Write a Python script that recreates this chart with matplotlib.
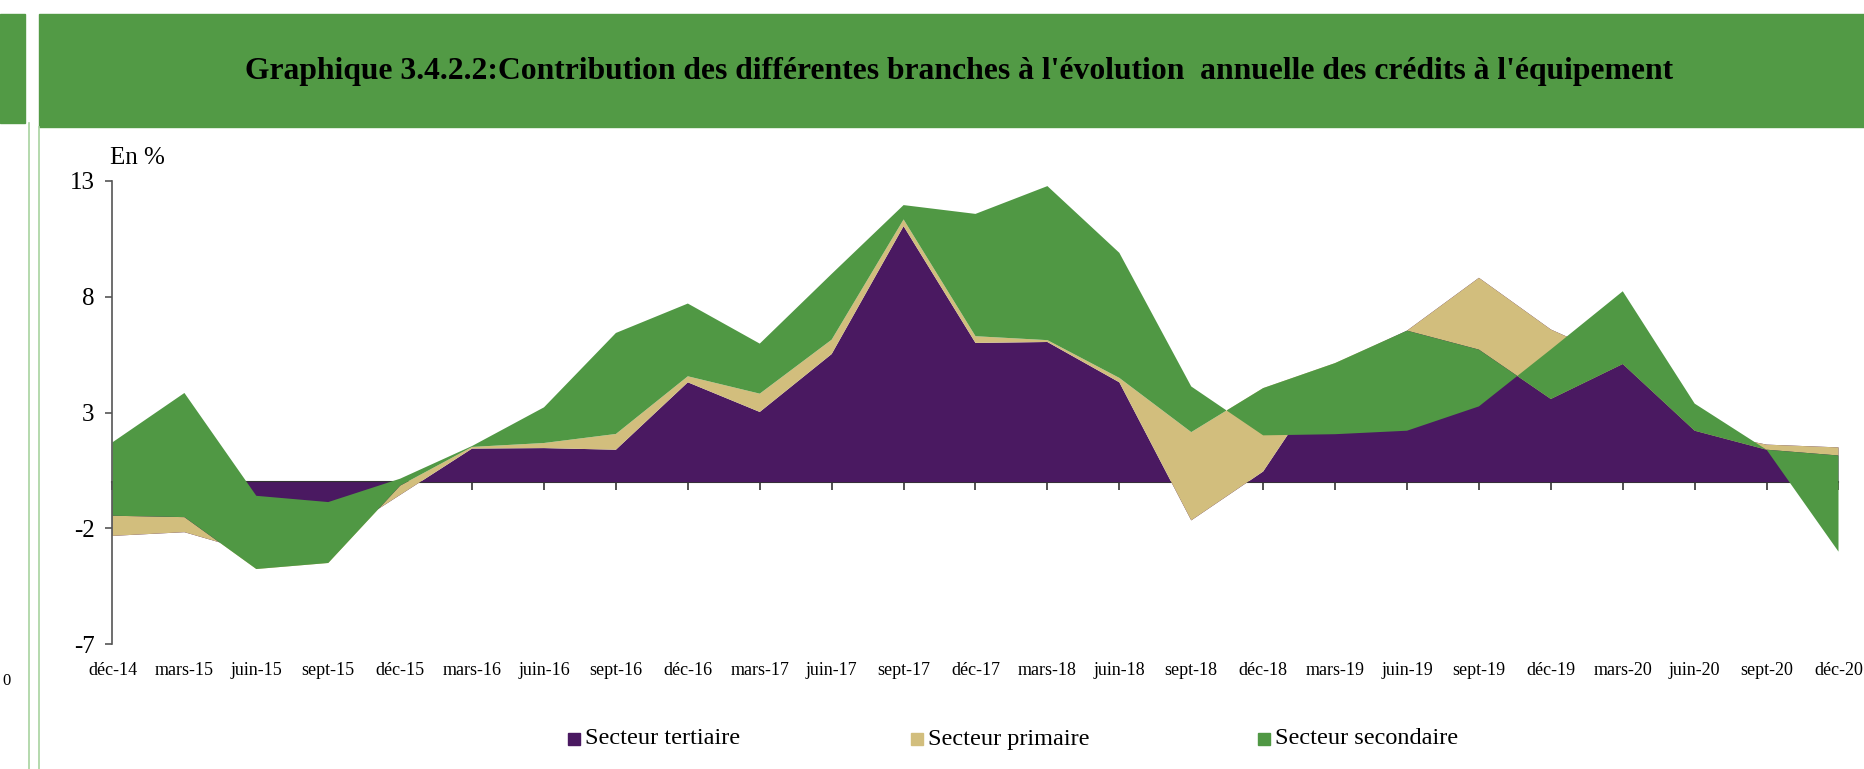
import matplotlib
matplotlib.use("Agg")
import matplotlib.pyplot as plt
from matplotlib.patches import Rectangle
from matplotlib.lines import Line2D

# quarterly contributions (points of %)
dates = ["déc-14", "mars-15", "juin-15", "sept-15", "déc-15", "mars-16", "juin-16",
         "sept-16", "déc-16", "mars-17", "juin-17", "sept-17", "déc-17", "mars-18",
         "juin-18", "sept-18", "déc-18", "mars-19", "juin-19", "sept-19", "déc-19",
         "mars-20", "juin-20", "sept-20", "déc-20"]
tertiaire = [-2.32, -2.16, -3.06, -2.55, -0.55, 1.45, 1.47, 1.40, 4.31, 3.03, 5.53, 11.05,
             6.01, 6.05, 4.31, -1.65, 0.46, 5.10, 6.54, 8.82, 6.59, 5.20, 2.25, 1.62, 1.50]
primaire = [0.87, 0.65, -0.69, -0.94, 0.40, 0.07, 0.22, 0.68, 0.26, 0.79, 0.62, 0.29,
            0.29, 0.08, 0.19, 3.81, 3.60, 0.04, 0.00, -3.10, -3.00, -0.10, -0.03, -0.22, -0.35]
secondaire = [3.17, 5.36, 3.16, 2.63, 0.30, 0.04, 1.54, 4.36, 3.14, 2.16, 2.84, 0.62,
              5.28, 6.65, 5.40, 1.97, -2.04, -3.07, -4.32, -2.45, 2.14, 3.14, 1.17, 0.00, -4.15]
labels = ["Secteur tertiaire", "Secteur primaire", "Secteur secondaire"]
colors = ["#4a1961", "#d2be7d", "#509844"]
yticks = [13, 8, 3, -2, -7]

W, H = 1865, 769
plt.rcParams["font.family"] = ["Liberation Serif", "DejaVu Serif"]
plt.rcParams["axes.unicode_minus"] = False

fig = plt.figure(figsize=(W / 100, H / 100), dpi=100)


def px_rect(x, y, w, h, color):
    fig.patches.append(Rectangle((x / W, 1 - (y + h) / H), w / W, h / H,
                                 transform=fig.transFigure, color=color, zorder=0))


def px_vline(x, y0, y1, color):
    fig.lines.append(Line2D([x / W, x / W], [1 - y0 / H, 1 - y1 / H],
                            transform=fig.transFigure, color=color, lw=1.2))


# header bands
px_rect(0, 14, 25, 109, "#529a45")
px_rect(39, 14, W - 39, 113, "#529a45")
px_vline(29, 123, H, "#a8d3a0")
px_vline(39, 127, H, "#a8d3a0")
fig.text(959 / W, 1 - 71 / H,
         "Graphique 3.4.2.2:Contribution des différentes branches à l'évolution  annuelle des crédits à l'équipement",
         ha="center", va="center", fontsize=22.8, fontweight="bold", color="black")
fig.text(2 / W, 1 - 681 / H, "0", fontsize=12, va="center")

ax = fig.add_axes([112.5 / W, 1 - 644.3 / H, 1726 / W, 463.3 / H])
x = list(range(len(dates)))
ax.stackplot(x, tertiaire, primaire, secondaire, colors=colors, linewidth=0)
ax.set_xlim(0, len(dates) - 1)
ax.set_ylim(-7, 13)

for side in ["top", "right", "bottom"]:
    ax.spines[side].set_visible(False)
ax.spines["left"].set_color("#555555")
ax.spines["left"].set_linewidth(1.2)
ax.set_yticks(yticks)
ax.tick_params(axis="y", direction="out", length=5, width=1.2, color="#555555",
               labelsize=18, pad=8)
ax.set_xticks(x)
ax.set_xticklabels(dates)
ax.tick_params(axis="x", length=0, labelsize=13, pad=13)

# zero line with category ticks
zero = ax.secondary_xaxis(7 / 20)
zero.set_xticks(x)
zero.set_xticklabels([])
zero.tick_params(direction="out", length=6, width=1.2, color="#333333")
zero.spines["bottom"].set_color("#333333")
zero.spines["bottom"].set_linewidth(1.5)

fig.text(110 / W, 1 - 158 / H, "En %", fontsize=18, va="center")

# legend
leg_x = [568, 911, 1258]
for lx, lab, col in zip(leg_x, labels, colors):
    px_rect(lx, 733, 12, 12, col)
    fig.text((lx + 17) / W, 1 - 739 / H, lab, fontsize=17.5, va="center")

fig.savefig("out.png", dpi=100)
